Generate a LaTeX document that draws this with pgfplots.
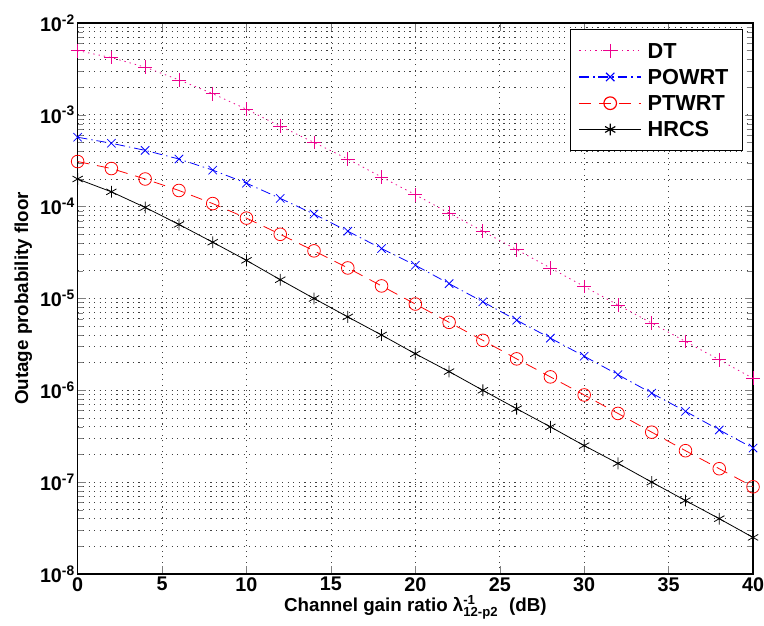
\documentclass[border={4pt 0pt 0pt 4pt}]{standalone}
\usepackage{amsmath}
\usepackage{fontspec}
\setmainfont{Liberation Sans}
\usepackage{pgfplots}
\pgfplotsset{compat=1.18}
\begin{document}
\begin{tikzpicture}
\begin{axis}[
  scale only axis,
  width=342pt, height=279pt,
  ymode=log,
  clip=false,
  xmin=0, xmax=40, ymin=1e-8, ymax=1e-2,
  xtick={0,5,...,40},
  minor x tick num=0,
  ytick={1e-8,1e-7,1e-6,1e-5,1e-4,1e-3,1e-2},
  yticklabels={10\textsuperscript{-8},10\textsuperscript{-7},10\textsuperscript{-6},10\textsuperscript{-5},10\textsuperscript{-4},10\textsuperscript{-3},10\textsuperscript{-2}},
  /pgf/number format/assume math mode=true,
  tick label style={font=\fontsize{10}{11}\selectfont\bfseries},
  xticklabel style={inner xsep=0pt, inner ysep=1.5pt},
  yticklabel style={inner xsep=1pt},
  label style={font=\fontsize{9.5}{11}\selectfont\bfseries},
  xlabel={Channel gain ratio λ$^{\text{\bfseries -1}}_{\text{\bfseries 12-p2}}$\ \ (dB)},
  ylabel={Outage probability floor},
  xlabel style={yshift=3pt},
  ylabel style={yshift=-0.5pt},
  tick align=inside,
  xmajorgrids=true, ymajorgrids=true, yminorgrids=true,
  major grid style={black!75, dash pattern=on 0.6pt off 2.2pt, line width=0.4pt},
  minor grid style={black!75, dash pattern=on 0.6pt off 2.2pt, line width=0.4pt},
  axis line style={line width=0.7pt},
  legend style={at={(0.985,0.989)}, anchor=north east, draw=black, line width=0.6pt,
    font=\fontsize{11}{12}\selectfont\bfseries, row sep=0pt, inner sep=4pt,
    nodes={inner xsep=3pt, inner ysep=2.4pt, text height=8pt, text depth=0.5pt}},
  legend cell align=left,
  legend image code/.code={\draw[#1] (0cm,0cm) -- (1.1cm,0cm); \draw[#1,solid] plot coordinates {(0.55cm,0cm)};},
]
\addplot[magenta, dash pattern=on 0.7pt off 2pt, mark=+, mark size=3.5pt, mark options={solid, magenta}] coordinates {
(0,5e-3)(2,4.2e-3)(4,3.3e-3)(6,2.4e-3)(8,1.7e-3)(10,1.15e-3)(12,7.5e-4)(14,5e-4)(16,3.3e-4)(18,2.1e-4)(20,1.35e-4)(22,8.5e-5)(24,5.4e-5)(26,3.4e-5)(28,2.15e-5)(30,1.35e-5)(32,8.5e-6)(34,5.4e-6)(36,3.4e-6)(38,2.15e-6)(40,1.35e-6)};
\addlegendentry{DT}
\addplot[blue, dash pattern=on 5pt off 2pt on 0.7pt off 2pt, mark=x, mark size=3pt, mark options={solid, blue}] coordinates {
(0,5.7e-4)(2,4.9e-4)(4,4.1e-4)(6,3.3e-4)(8,2.5e-4)(10,1.8e-4)(12,1.23e-4)(14,8.3e-5)(16,5.4e-5)(18,3.5e-5)(20,2.3e-5)(22,1.45e-5)(24,9.2e-6)(26,5.8e-6)(28,3.7e-6)(30,2.35e-6)(32,1.48e-6)(34,9.3e-7)(36,5.9e-7)(38,3.7e-7)(40,2.35e-7)};
\addlegendentry{POWRT}
\addplot[red, dash pattern=on 6pt off 4pt, mark=o, mark size=3.2pt, mark options={solid, red}] coordinates {
(0,3.1e-4)(2,2.6e-4)(4,2e-4)(6,1.5e-4)(8,1.08e-4)(10,7.5e-5)(12,5e-5)(14,3.3e-5)(16,2.15e-5)(18,1.37e-5)(20,8.7e-6)(22,5.5e-6)(24,3.5e-6)(26,2.2e-6)(28,1.4e-6)(30,8.9e-7)(32,5.6e-7)(34,3.5e-7)(36,2.2e-7)(38,1.4e-7)(40,8.9e-8)};
\addlegendentry{PTWRT}
\addplot[black, solid, mark=asterisk, mark size=3pt] coordinates {
(0,2e-4)(2,1.45e-4)(4,9.8e-5)(6,6.4e-5)(8,4.1e-5)(10,2.6e-5)(12,1.6e-5)(14,1.0e-5)(16,6.3e-6)(18,4e-6)(20,2.5e-6)(22,1.6e-6)(24,1e-6)(26,6.3e-7)(28,4e-7)(30,2.5e-7)(32,1.6e-7)(34,1e-7)(36,6.3e-8)(38,4e-8)(40,2.5e-8)};
\addlegendentry{HRCS}
\end{axis}
\end{tikzpicture}
\end{document}
